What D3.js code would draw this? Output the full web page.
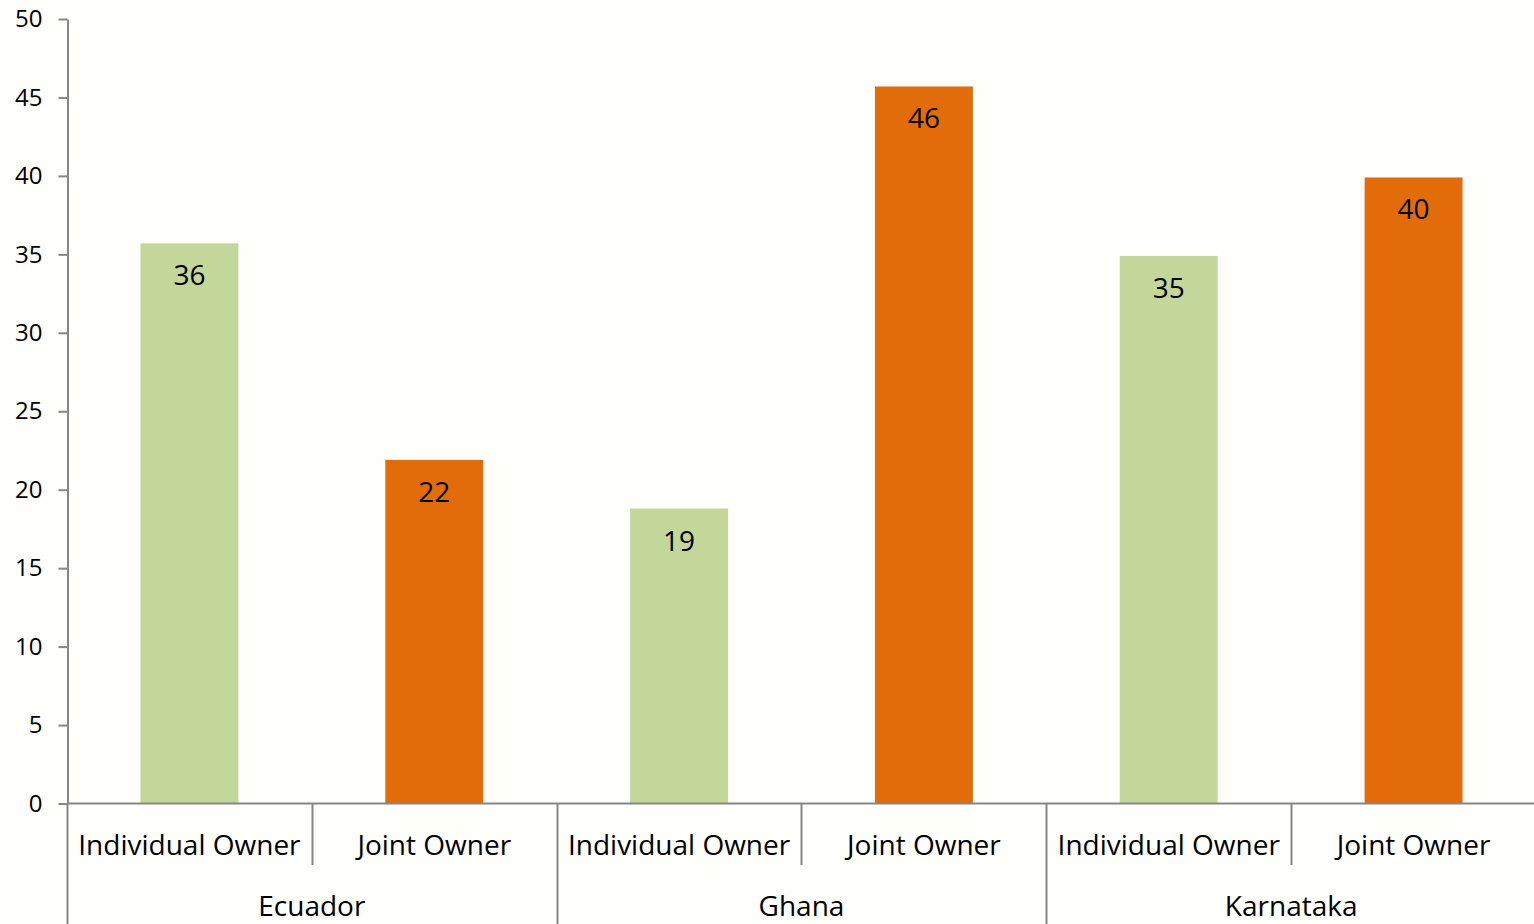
<!DOCTYPE html>
<html>
<head>
<meta charset="utf-8">
<script src="https://cdn.jsdelivr.net/npm/d3@7"></script>
<style>
    body { margin: 0; background: #fefefa; }
    svg { display: block; font-family: 'Open Sans', Lato, sans-serif; }
</style>
</head>
<body>
<script>
// chart data
const groups = ['Ecuador', 'Ghana', 'Karnataka'];
const owners = ['Individual Owner', 'Joint Owner'];
const values = [35.7, 21.9, 18.8, 45.7, 34.9, 39.9];
const valueLabels = ['36', '22', '19', '46', '35', '40'];
const yTicks = [0, 5, 10, 15, 20, 25, 30, 35, 40, 45, 50];
const colors = ['#c4d79b', '#e36c0a'];

drawChart();

function drawChart()
{
    const width = 1534;
    const height = 924;

    const marginTop = 19;
    const marginLeft = 67;
    const marginRight = -2;
    const axisY = 803.5;

    const data = [];
    groups.forEach((g, gi) =>
    {
        owners.forEach((o, oi) =>
        {
            const i = gi * owners.length + oi;
            data.push({ key: `${g}|${o}`, group: g, owner: o, ownerIndex: oi, value: values[i], label: valueLabels[i] });
        });
    });

    const svg = d3.select('body').append('svg')
        .attr('width', width)
        .attr('height', height);

    // x scaler over all group/owner pairs
    const x = d3.scaleBand()
        .domain(data.map(d => d.key))
        .range([marginLeft, width - marginRight])
        .paddingInner(0.6)
        .paddingOuter(0.3);

    const step = x.step();
    const bandStart = d => x(d.key) - (step - x.bandwidth()) / 2;

    const y = d3.scaleLinear()
        .domain([0, 50])
        .range([axisY, marginTop]);

    // bars
    svg.selectAll('.bar')
        .data(data)
        .enter()
        .append('rect')
        .attr('class', 'bar')
        .attr('x', d => x(d.key))
        .attr('y', d => y(d.value))
        .attr('width', x.bandwidth())
        .attr('height', d => y(0) - y(d.value))
        .attr('fill', d => colors[d.ownerIndex]);

    // value labels
    svg.selectAll('.value-label')
        .data(data)
        .enter()
        .append('text')
        .attr('class', 'value-label')
        .attr('x', d => x(d.key) + x.bandwidth() / 2)
        .attr('y', d => y(d.value) + 42)
        .attr('text-anchor', 'middle')
        .attr('font-size', 28)
        .attr('fill', '#000')
        .text(d => d.label);

    // y-axis
    const yAxis = d3.axisLeft(y).tickValues(yTicks).tickSize(9).tickSizeOuter(0).tickPadding(16);
    svg.append('g')
        .attr('id', 'y-axis')
        .attr('transform', `translate(${marginLeft + 0.5}, 0)`)
        .call(yAxis)
        .call(g => g.select('.domain').attr('stroke', '#868686').attr('stroke-width', 2))
        .call(g => g.selectAll('.tick line').attr('stroke', '#868686').attr('stroke-width', 2))
        .call(g => g.selectAll('.tick text').attr('font-size', 24).attr('fill', '#000').attr('font-family', "'Open Sans', sans-serif"));

    // x-axis baseline
    svg.append('line')
        .attr('x1', marginLeft)
        .attr('x2', width)
        .attr('y1', axisY)
        .attr('y2', axisY)
        .attr('stroke', '#868686')
        .attr('stroke-width', 2);

    // separators between owners inside a group
    svg.selectAll('.owner-sep')
        .data(data.filter(d => d.ownerIndex === 1))
        .enter()
        .append('line')
        .attr('class', 'owner-sep')
        .attr('x1', d => Math.round(bandStart(d)) + 0.5)
        .attr('x2', d => Math.round(bandStart(d)) + 0.5)
        .attr('y1', axisY)
        .attr('y2', 865)
        .attr('stroke', '#868686')
        .attr('stroke-width', 2);

    // separators between groups
    svg.selectAll('.group-sep')
        .data(data.filter(d => d.ownerIndex === 0))
        .enter()
        .append('line')
        .attr('class', 'group-sep')
        .attr('x1', d => Math.round(bandStart(d)) + 0.5)
        .attr('x2', d => Math.round(bandStart(d)) + 0.5)
        .attr('y1', axisY)
        .attr('y2', height)
        .attr('stroke', '#868686')
        .attr('stroke-width', 2);

    // owner labels
    svg.selectAll('.owner-label')
        .data(data)
        .enter()
        .append('text')
        .attr('class', 'owner-label')
        .attr('x', d => x(d.key) + x.bandwidth() / 2)
        .attr('y', 855)
        .attr('text-anchor', 'middle')
        .attr('font-size', 28)
        .attr('fill', '#000')
        .text(d => d.owner);

    // group labels
    svg.selectAll('.group-label')
        .data(groups)
        .enter()
        .append('text')
        .attr('class', 'group-label')
        .attr('x', g => bandStart({ key: `${g}|${owners[0]}` }) + step)
        .attr('y', 916)
        .attr('text-anchor', 'middle')
        .attr('font-size', 28)
        .attr('fill', '#000')
        .text(g => g);
}
</script>
</body>
</html>
